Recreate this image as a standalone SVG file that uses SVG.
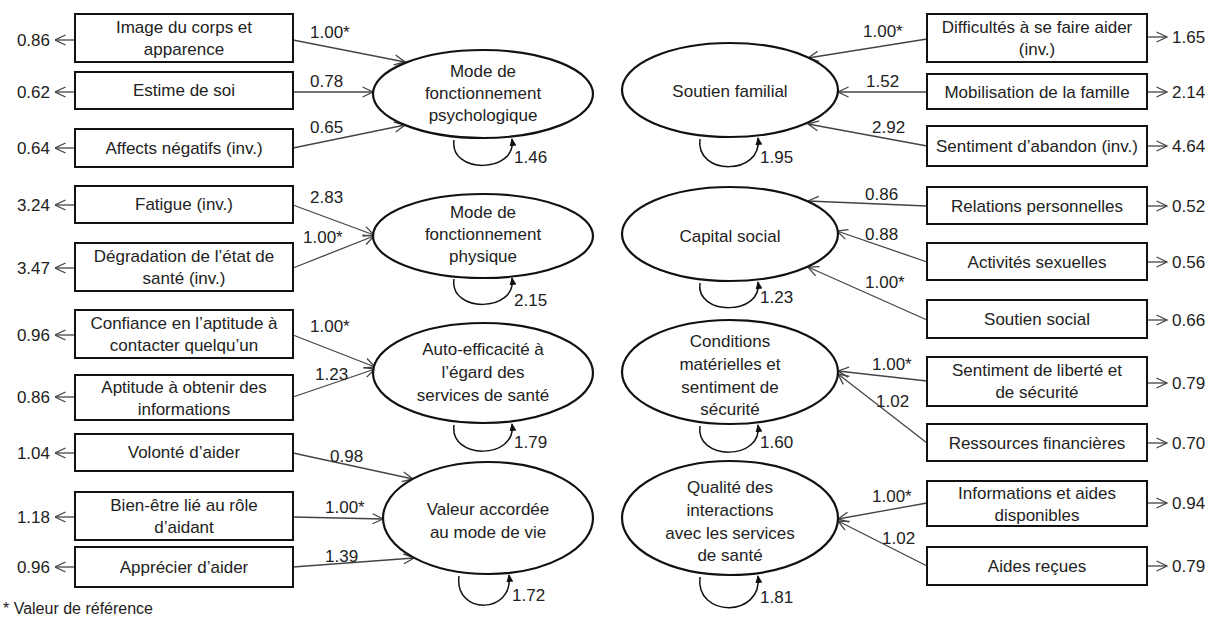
<svg xmlns="http://www.w3.org/2000/svg" width="1214" height="628" viewBox="0 0 1214 628">
<style>
.bg{fill:#fff}
.box{fill:#fff;stroke:#111;stroke-width:2}
.ell{fill:#fff;stroke:#111;stroke-width:2.2}
text{font-family:"Liberation Sans",Arial,sans-serif;font-size:17px;fill:#222}
.m{text-anchor:middle}
.e{text-anchor:end}
.c{stroke:#444;stroke-width:1.3;fill:none;marker-end:url(#open)}
.loop{stroke:#111;stroke-width:1.5;fill:none;marker-end:url(#solid)}
.foot{font-size:16px}
</style>
<defs>
<marker id="open" viewBox="0 0 12 12" refX="11.5" refY="6" markerWidth="12" markerHeight="12" markerUnits="userSpaceOnUse" orient="auto">
<path d="M1,1 L11.5,6 L1,11" fill="none" stroke="#444" stroke-width="1.3"/>
</marker>
<marker id="solid" viewBox="0 0 8 8" refX="7" refY="4" markerWidth="8" markerHeight="8" markerUnits="userSpaceOnUse" orient="auto">
<path d="M0,0.5 L8,4 L0,7.5 Z" fill="#111"/>
</marker>
</defs>
<rect class="bg" x="0" y="0" width="1214" height="628"/>

<g id="connectors">
<!-- left loadings -->
<line class="c" x1="293" y1="40" x2="405" y2="62"/>
<line class="c" x1="293" y1="92" x2="373" y2="92"/>
<line class="c" x1="293" y1="148" x2="405" y2="125"/>
<line class="c" x1="293" y1="205" x2="374" y2="235"/>
<line class="c" x1="293" y1="268" x2="374" y2="236"/>
<line class="c" x1="293" y1="335" x2="375" y2="367"/>
<line class="c" x1="293" y1="397" x2="375" y2="369"/>
<line class="c" x1="293" y1="453" x2="413" y2="479"/>
<line class="c" x1="293" y1="517" x2="383" y2="519"/>
<line class="c" x1="293" y1="567" x2="414" y2="558"/>
<!-- left residuals -->
<line class="c" x1="75" y1="40" x2="55" y2="40"/>
<line class="c" x1="75" y1="92" x2="55" y2="92"/>
<line class="c" x1="75" y1="148" x2="55" y2="148"/>
<line class="c" x1="75" y1="205" x2="55" y2="205"/>
<line class="c" x1="75" y1="268" x2="55" y2="268"/>
<line class="c" x1="75" y1="335" x2="55" y2="335"/>
<line class="c" x1="75" y1="397" x2="55" y2="397"/>
<line class="c" x1="75" y1="453" x2="55" y2="453"/>
<line class="c" x1="75" y1="517" x2="55" y2="517"/>
<line class="c" x1="75" y1="567" x2="55" y2="567"/>
<!-- right loadings -->
<line class="c" x1="927" y1="39" x2="808" y2="58"/>
<line class="c" x1="927" y1="92" x2="838" y2="92"/>
<line class="c" x1="927" y1="146" x2="808" y2="124"/>
<line class="c" x1="927" y1="206" x2="808" y2="201"/>
<line class="c" x1="927" y1="262" x2="837" y2="231"/>
<line class="c" x1="927" y1="320" x2="808" y2="267"/>
<line class="c" x1="927" y1="381" x2="838" y2="371"/>
<line class="c" x1="927" y1="443" x2="838" y2="374"/>
<line class="c" x1="927" y1="503" x2="838" y2="519"/>
<line class="c" x1="927" y1="566" x2="838" y2="521"/>
<!-- right residuals -->
<line class="c" x1="1147" y1="37" x2="1167" y2="37"/>
<line class="c" x1="1147" y1="92" x2="1167" y2="92"/>
<line class="c" x1="1147" y1="146" x2="1167" y2="146"/>
<line class="c" x1="1147" y1="206" x2="1167" y2="206"/>
<line class="c" x1="1147" y1="262" x2="1167" y2="262"/>
<line class="c" x1="1147" y1="320" x2="1167" y2="320"/>
<line class="c" x1="1147" y1="383" x2="1167" y2="383"/>
<line class="c" x1="1147" y1="443" x2="1167" y2="443"/>
<line class="c" x1="1147" y1="503" x2="1167" y2="503"/>
<line class="c" x1="1147" y1="566" x2="1167" y2="566"/>
<!-- variance loops -->
<path class="loop" d="M454,140 C449,174 517,174 512,139"/>
<path class="loop" d="M454,279 C449,313 517,313 512,278"/>
<path class="loop" d="M454,425 C449,460 517,460 512,424"/>
<path class="loop" d="M459,576 C454,615 514,615 509,575"/>
<path class="loop" d="M700,139 C695,176 763,176 758,138"/>
<path class="loop" d="M700,283 C695,316 763,316 758,282"/>
<path class="loop" d="M700,426 C695,461 763,461 758,425"/>
<path class="loop" d="M700,577 C695,618 763,618 758,576"/>
<!-- labels -->
<text x="310" y="38">1.00*</text>
<text x="310" y="87">0.78</text>
<text x="310" y="133">0.65</text>
<text x="310" y="203">2.83</text>
<text x="303" y="243">1.00*</text>
<text x="310" y="332">1.00*</text>
<text x="315" y="380">1.23</text>
<text x="330" y="462">0.98</text>
<text x="325" y="513">1.00*</text>
<text x="325" y="562">1.39</text>
<text x="863" y="37">1.00*</text>
<text x="866" y="87">1.52</text>
<text x="872" y="133">2.92</text>
<text x="865" y="200">0.86</text>
<text x="865" y="240">0.88</text>
<text x="865" y="288">1.00*</text>
<text x="872" y="370">1.00*</text>
<text x="876" y="407">1.02</text>
<text x="872" y="502">1.00*</text>
<text x="882" y="544">1.02</text>
<text x="514" y="163">1.46</text>
<text x="514" y="306">2.15</text>
<text x="514" y="448">1.79</text>
<text x="512" y="601">1.72</text>
<text x="760" y="163">1.95</text>
<text x="760" y="303">1.23</text>
<text x="760" y="448">1.60</text>
<text x="760" y="603">1.81</text>
<text class="e" x="50" y="46">0.86</text>
<text class="e" x="50" y="98">0.62</text>
<text class="e" x="50" y="154">0.64</text>
<text class="e" x="50" y="211">3.24</text>
<text class="e" x="50" y="274">3.47</text>
<text class="e" x="50" y="341">0.96</text>
<text class="e" x="50" y="403">0.86</text>
<text class="e" x="50" y="459">1.04</text>
<text class="e" x="50" y="523">1.18</text>
<text class="e" x="50" y="573">0.96</text>
<text x="1172" y="43">1.65</text>
<text x="1172" y="98">2.14</text>
<text x="1172" y="152">4.64</text>
<text x="1172" y="212">0.52</text>
<text x="1172" y="268">0.56</text>
<text x="1172" y="326">0.66</text>
<text x="1172" y="389">0.79</text>
<text x="1172" y="449">0.70</text>
<text x="1172" y="509">0.94</text>
<text x="1172" y="572">0.79</text>
</g>

<g id="n-image"><rect class="box" x="75" y="14" width="218" height="48"/><text class="m" x="184" y="33">Image du corps et</text><text class="m" x="184" y="55">apparence</text></g>
<g id="n-estime"><rect class="box" x="75" y="72" width="218" height="37"/><text class="m" x="184" y="96">Estime de soi</text></g>
<g id="n-affects"><rect class="box" x="75" y="129" width="218" height="38"/><text class="m" x="184" y="154">Affects négatifs (inv.)</text></g>
<g id="n-fatigue"><rect class="box" x="75" y="186" width="218" height="37"/><text class="m" x="184" y="210">Fatigue (inv.)</text></g>
<g id="n-degradation"><rect class="box" x="75" y="243" width="218" height="48"/><text class="m" x="184" y="262">Dégradation de l’état de</text><text class="m" x="184" y="284">santé (inv.)</text></g>
<g id="n-confiance"><rect class="box" x="75" y="310" width="218" height="48"/><text class="m" x="184" y="329">Confiance en l’aptitude  à</text><text class="m" x="184" y="351">contacter quelqu’un</text></g>
<g id="n-aptitude"><rect class="box" x="75" y="375" width="218" height="45"/><text class="m" x="184" y="393">Aptitude à obtenir des</text><text class="m" x="184" y="415">informations</text></g>
<g id="n-volonte"><rect class="box" x="75" y="434" width="218" height="37"/><text class="m" x="184" y="458">Volonté d’aider</text></g>
<g id="n-bienetre"><rect class="box" x="75" y="492" width="218" height="48"/><text class="m" x="184" y="511">Bien-être lié au rôle</text><text class="m" x="184" y="533">d’aidant</text></g>
<g id="n-apprecier"><rect class="box" x="75" y="547" width="218" height="40"/><text class="m" x="184" y="573">Apprécier d’aider</text></g>

<g id="n-psycho"><ellipse class="ell" cx="483" cy="94" rx="110" ry="44"/><text class="m" x="483" y="77">Mode de</text><text class="m" x="483" y="99">fonctionnement</text><text class="m" x="483" y="121">psychologique</text></g>
<g id="n-physique"><ellipse class="ell" cx="483" cy="236" rx="110" ry="42"/><text class="m" x="483" y="218">Mode de</text><text class="m" x="483" y="240">fonctionnement</text><text class="m" x="483" y="262">physique</text></g>
<g id="n-autoeff"><ellipse class="ell" cx="483" cy="373" rx="110" ry="50"/><text class="m" x="483" y="355">Auto-efficacité à</text><text class="m" x="483" y="378">l’égard des</text><text class="m" x="483" y="401">services de santé</text></g>
<g id="n-valeur"><ellipse class="ell" cx="488" cy="518" rx="105" ry="56"/><text class="m" x="488" y="515">Valeur accordée</text><text class="m" x="488" y="538">au mode de vie</text></g>

<g id="n-soutienfam"><ellipse class="ell" cx="730" cy="90" rx="108" ry="47"/><text class="m" x="730" y="97">Soutien familial</text></g>
<g id="n-capital"><ellipse class="ell" cx="730" cy="234" rx="108" ry="47"/><text class="m" x="730" y="242">Capital social</text></g>
<g id="n-conditions"><ellipse class="ell" cx="730" cy="372" rx="108" ry="52"/><text class="m" x="730" y="347">Conditions</text><text class="m" x="730" y="370">matérielles et</text><text class="m" x="730" y="393">sentiment de</text><text class="m" x="730" y="415">sécurité</text></g>
<g id="n-qualite"><ellipse class="ell" cx="730" cy="518" rx="108" ry="57"/><text class="m" x="730" y="493">Qualité des</text><text class="m" x="730" y="516">interactions</text><text class="m" x="730" y="539">avec les services</text><text class="m" x="730" y="561">de santé</text></g>

<g id="n-difficultes"><rect class="box" x="927" y="14" width="220" height="48"/><text class="m" x="1037" y="33">Difficultés à se faire aider</text><text class="m" x="1037" y="55">(inv.)</text></g>
<g id="n-mobilisation"><rect class="box" x="927" y="74" width="220" height="35"/><text class="m" x="1037" y="98">Mobilisation de la famille</text></g>
<g id="n-abandon"><rect class="box" x="927" y="126" width="220" height="40"/><text class="m" x="1037" y="152">Sentiment d’abandon (inv.)</text></g>
<g id="n-relations"><rect class="box" x="927" y="187" width="220" height="37"/><text class="m" x="1037" y="212">Relations personnelles</text></g>
<g id="n-activites"><rect class="box" x="927" y="243" width="220" height="37"/><text class="m" x="1037" y="268">Activités sexuelles</text></g>
<g id="n-soutiensoc"><rect class="box" x="927" y="300" width="220" height="38"/><text class="m" x="1037" y="325">Soutien social</text></g>
<g id="n-liberte"><rect class="box" x="927" y="357" width="220" height="49"/><text class="m" x="1037" y="376">Sentiment de liberté et</text><text class="m" x="1037" y="398">de sécurité</text></g>
<g id="n-ressources"><rect class="box" x="927" y="424" width="220" height="37"/><text class="m" x="1037" y="449">Ressources financières</text></g>
<g id="n-informations"><rect class="box" x="927" y="481" width="220" height="45"/><text class="m" x="1037" y="499">Informations et aides</text><text class="m" x="1037" y="521">disponibles</text></g>
<g id="n-aides"><rect class="box" x="927" y="547" width="220" height="38"/><text class="m" x="1037" y="572">Aides reçues</text></g>

<text class="foot" x="3" y="614">* Valeur de référence</text>
</svg>
